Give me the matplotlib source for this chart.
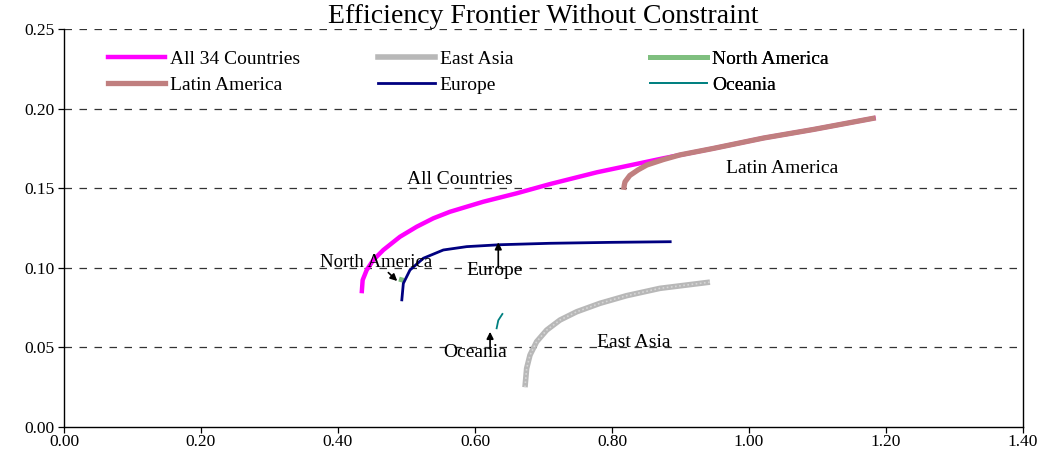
import matplotlib
matplotlib.use("Agg")
import matplotlib.pyplot as plt
from matplotlib.lines import Line2D

# ---- data (risk = x, return = y) ----
all_x = [0.4346, 0.4360, 0.4419, 0.4516, 0.4662, 0.4905, 0.5149, 0.5392, 0.5635, 0.6121, 0.6609,
         0.7095, 0.778, 0.875, 0.948, 1.021, 1.094, 1.185]
all_y = [0.0840, 0.0923, 0.0986, 0.1049, 0.1112, 0.1195, 0.1258, 0.1311, 0.1352, 0.1415, 0.1468,
         0.1526, 0.1600, 0.1688, 0.1750, 0.1815, 0.1869, 0.1942]

latin_x = [0.817, 0.818, 0.819, 0.826, 0.838, 0.851, 0.875, 0.899, 0.948, 1.021, 1.094, 1.185]
latin_y = [0.149, 0.152, 0.154, 0.158, 0.1615, 0.1646, 0.168, 0.1709, 0.1750, 0.1815, 0.1869, 0.1942]

asia_x = [0.673, 0.6754, 0.6803, 0.690, 0.7047, 0.7241, 0.7485, 0.7825, 0.8214, 0.870, 0.943]
asia_y = [0.0250, 0.0368, 0.0452, 0.0536, 0.0609, 0.0672, 0.0724, 0.0777, 0.0825, 0.0871, 0.0910]

europe_x = [0.4930, 0.4954, 0.5051, 0.5246, 0.5538, 0.5879, 0.6365, 0.7095, 0.800, 0.887]
europe_y = [0.0790, 0.0902, 0.0986, 0.1060, 0.1112, 0.1133, 0.1145, 0.1154, 0.1160, 0.1164]

namerica_x = [0.4915, 0.4925, 0.4935]
namerica_y = [0.0910, 0.0925, 0.0940]

oceania_x = [0.6316, 0.634, 0.640]
oceania_y = [0.0620, 0.0670, 0.0710]

x_ticks = [0.0, 0.2, 0.4, 0.6, 0.8, 1.0, 1.2, 1.4]
y_ticks = [0.0, 0.05, 0.10, 0.15, 0.20, 0.25]

serif = ["Liberation Serif", "DejaVu Serif"]
plt.rcParams["font.family"] = serif

fig = plt.figure(figsize=(10.37, 4.59), dpi=100)
ax = fig.add_axes([0.0617, 0.0697, 0.9248, 0.8671])

ax.set_xlim(0, 1.4)
ax.set_ylim(0, 0.25)

for yv in y_ticks[1:]:
    ax.axhline(yv, color="#333333", lw=0.9, ls=(0, (6, 6)), zorder=1)

c_all = "#ff00ff"
c_asia = "#b8b8b8"
c_nam = "#7fbf7f"
c_lat = "#c07f7f"
c_eur = "#000080"
c_oce = "#008080"

l_all, = ax.plot(all_x, all_y, color=c_all, lw=3.2, solid_capstyle="butt", solid_joinstyle="round", zorder=3)
l_asia, = ax.plot(asia_x, asia_y, color=c_asia, lw=4.0, solid_capstyle="butt", solid_joinstyle="round", zorder=3)
ax.plot(asia_x, asia_y, color="#d6d6d6", lw=1.2, ls=(0, (1, 1.5)), zorder=3)
l_nam, = ax.plot(namerica_x, namerica_y, color=c_nam, lw=3.5, solid_capstyle="butt", zorder=3)
l_lat, = ax.plot(latin_x, latin_y, color=c_lat, lw=3.8, solid_capstyle="butt", solid_joinstyle="round", zorder=4)
l_eur, = ax.plot(europe_x, europe_y, color=c_eur, lw=2.0, solid_capstyle="butt", solid_joinstyle="round", zorder=3)
l_oce, = ax.plot(oceania_x, oceania_y, color=c_oce, lw=1.3, zorder=3)

# spines / ticks
ax.spines["top"].set_visible(False)
for s in ["left", "bottom", "right"]:
    ax.spines[s].set_linewidth(1.0)
    ax.spines[s].set_color("black")
ax.set_xticks(x_ticks)
ax.set_xticklabels([f"{v:.2f}" for v in x_ticks])
ax.set_yticks(y_ticks)
ax.set_yticklabels([f"{v:.2f}" for v in y_ticks])
ax.tick_params(direction="out", length=4, width=0.9, labelsize=12.5)
ax.tick_params(axis="x", pad=1)
ax.tick_params(axis="y", pad=3)

ax.set_title("Efficiency Frontier Without Constraint", fontsize=20, pad=1)

# legend: three fixed columns like the spreadsheet layout
col_pos = [0.0459, 0.327, 0.611]
cols = [[(l_all, "All 34 Countries"), (l_lat, "Latin America")],
        [(l_asia, "East Asia"), (l_eur, "Europe")],
        [(l_nam, "North America"), (l_oce, "Oceania")]]
for xp, entries in zip(col_pos, cols):
    handles = [Line2D([], [], color=h.get_color(), lw=h.get_linewidth()) for h, _ in entries]
    leg = ax.legend(handles, [t for _, t in entries], loc="upper left",
                    bbox_to_anchor=(xp, 0.947), frameon=False, fontsize=14,
                    handlelength=2.95, handletextpad=0.25, labelspacing=0.45,
                    borderpad=0, borderaxespad=0)
    ax.add_artist(leg)

# annotations
ax.text(0.578, 0.1555, "All Countries", fontsize=14, ha="center", va="center")
ax.text(1.048, 0.1625, "Latin America", fontsize=14, ha="center", va="center")
ax.text(0.455, 0.1035, "North America", fontsize=13.5, ha="center", va="center")
ax.text(0.628, 0.0985, "Europe", fontsize=14, ha="center", va="center")
ax.text(0.600, 0.0470, "Oceania", fontsize=14, ha="center", va="center")
ax.text(0.832, 0.0530, "East Asia", fontsize=14, ha="center", va="center")

arrow = dict(arrowstyle="-|>", color="black", lw=1.2, mutation_scale=10, shrinkA=0, shrinkB=0)
ax.annotate("", xy=(0.634, 0.1160), xytext=(0.634, 0.1000), arrowprops=arrow)
ax.annotate("", xy=(0.4865, 0.0917), xytext=(0.4735, 0.0970), arrowprops=arrow)
ax.annotate("", xy=(0.622, 0.0598), xytext=(0.622, 0.0494), arrowprops=arrow)

fig.savefig("out.png", dpi=100)
